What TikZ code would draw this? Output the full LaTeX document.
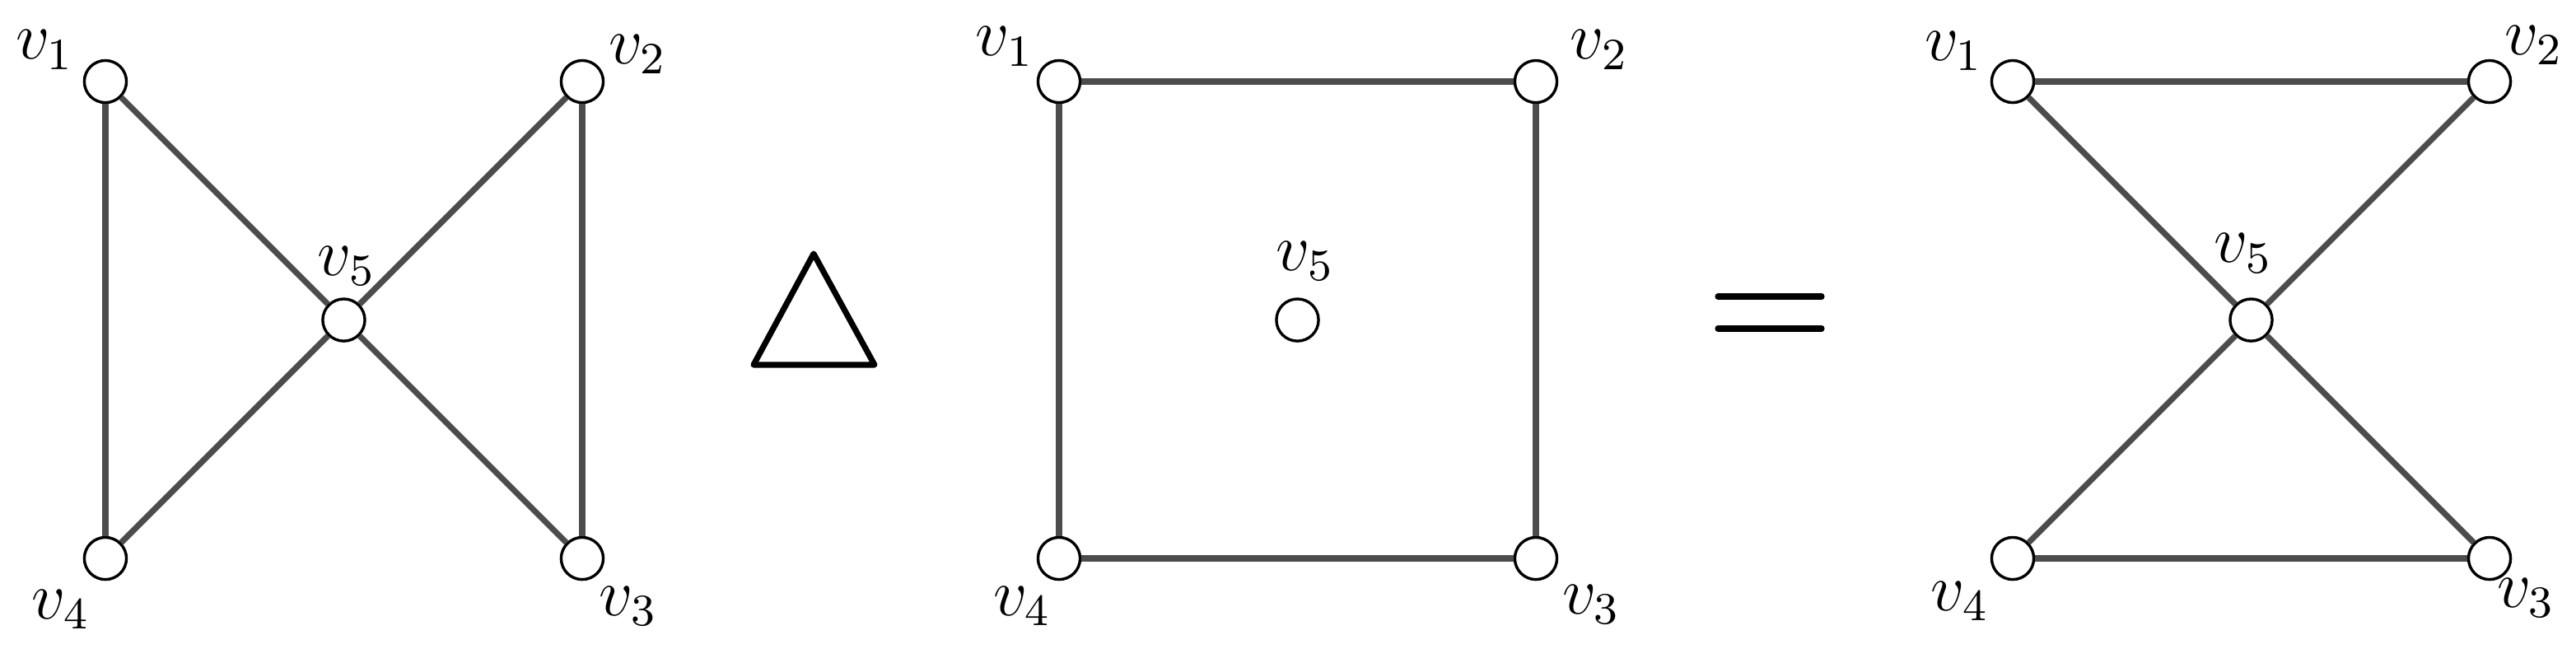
\documentclass[tikz,border=0pt]{standalone}
\usetikzlibrary{positioning}

\begin{document}
\begin{tikzpicture}[
  vert/.style={circle, draw=black, line width=0.5pt, fill=white, inner sep=0pt, minimum size=2.65mm},
  lab/.style={font=\large, inner sep=0pt},
  ln/.style={draw=black!70, line width=1.05pt},
  op/.style={draw=black, line width=1.05pt, line cap=round, line join=round}
]
\useasboundingbox (-0.663,-0.565) rectangle (15.544,3.513);

% first graph
\node[vert] (a1) at (0,3) {};
\node[vert] (a2) at (3,3) {};
\node[vert] (a3) at (3,0) {};
\node[vert] (a4) at (0,0) {};
\node[vert] (a5) at (1.5,1.5) {};
\node[lab] (la1) at (-0.38,3.20) {$v_1$};
\node[lab] (la2) at (3.35,3.17) {$v_2$};
\node[lab] (la3) at (3.29,-0.30) {$v_3$};
\node[lab] (la4) at (-0.28,-0.32) {$v_4$};
\node[lab] (la5) at (1.52,1.84) {$v_5$};
\draw[ln] (a1)--(a4);
\draw[ln] (a1)--(a5);
\draw[ln] (a2)--(a5);
\draw[ln] (a2)--(a3);
\draw[ln] (a5)--(a4);
\draw[ln] (a5)--(a3);

% symmetric difference
\draw[op] (4.078,1.218) -- (4.456,1.917) -- (4.839,1.218) -- cycle;

% second graph
\node[vert] (b1) at (6,3) {};
\node[vert] (b2) at (9,3) {};
\node[vert] (b3) at (9,0) {};
\node[vert] (b4) at (6,0) {};
\node[vert] (b5) at (7.5,1.5) {};
\node[lab] (lb1) at (5.66,3.22) {$v_1$};
\node[lab] (lb2) at (9.40,3.20) {$v_2$};
\node[lab] (lb3) at (9.35,-0.29) {$v_3$};
\node[lab] (lb4) at (5.77,-0.30) {$v_4$};
\node[lab] (lb5) at (7.55,1.87) {$v_5$};
\draw[ln] (b1)--(b2)--(b3)--(b4)--(b1);

% equals
\draw[op] (10.145,1.648) -- (10.798,1.648);
\draw[op] (10.145,1.446) -- (10.798,1.446);

% result
\node[vert] (c1) at (12,3) {};
\node[vert] (c2) at (15,3) {};
\node[vert] (c3) at (15,0) {};
\node[vert] (c4) at (12,0) {};
\node[vert] (c5) at (13.5,1.5) {};
\node[lab] (lc1) at (11.63,3.19) {$v_1$};
\node[lab] (lc2) at (15.28,3.23) {$v_2$};
\node[lab] (lc3) at (15.23,-0.25) {$v_3$};
\node[lab] (lc4) at (11.67,-0.27) {$v_4$};
\node[lab] (lc5) at (13.45,1.92) {$v_5$};
\draw[ln] (c1)--(c2);
\draw[ln] (c1)--(c5);
\draw[ln] (c2)--(c5);
\draw[ln] (c5)--(c4);
\draw[ln] (c5)--(c3);
\draw[ln] (c4)--(c3);
\end{tikzpicture}
\end{document}
